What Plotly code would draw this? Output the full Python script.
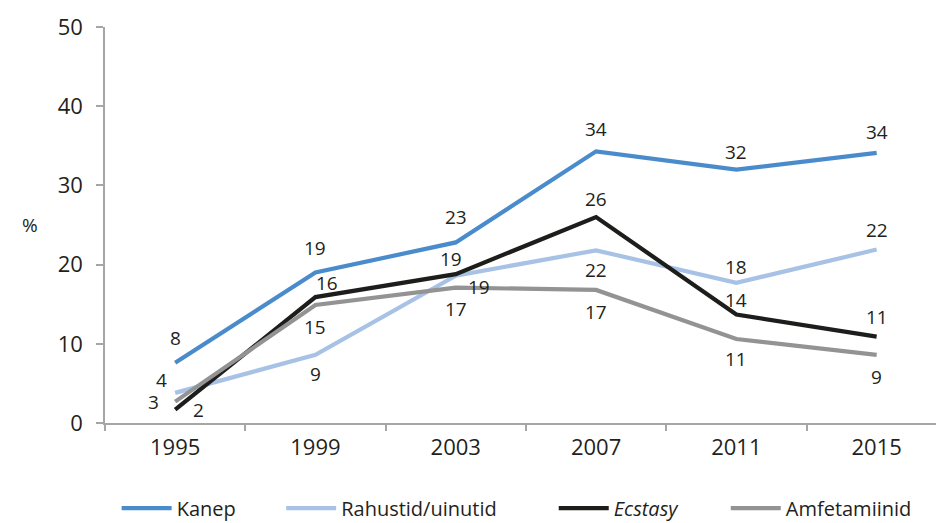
import plotly.graph_objects as go

years = ["1995", "1999", "2003", "2007", "2011", "2015"]
kanep = [7.6, 19.0, 22.8, 34.3, 32.0, 34.1]
rahustid = [3.8, 8.6, 18.6, 21.8, 17.7, 21.9]
ecstasy = [1.7, 15.9, 18.8, 26.0, 13.7, 10.9]
amfetamiinid = [2.7, 14.9, 17.1, 16.8, 10.6, 8.6]

series = [
    ("Kanep", kanep, "#4a8ccb"),
    ("Rahustid/uinutid", rahustid, "#a7c2e5"),
    ("<i>Ecstasy</i>", ecstasy, "#1d1d1b"),
    ("Amfetamiinid", amfetamiinid, "#939393"),
]

# label placement per point (style): (xshift, yshift) in px
offsets = [
    [(0, 25), (0, 25), (0, 25), (0, 22), (0, 18), (0, 21)],
    [(-14, 13), (0, -19), (23, -11), (0, -20), (0, 16), (0, 20)],
    [(23, 0), (12, 14), (-5, 15), (0, 18), (0, 15), (0, 20)],
    [(-22, 0), (0, -22), (0, -21), (0, -22), (0, -20), (0, -22)],
]

legend_x = [0.014, 0.212, 0.540, 0.747]
FONT = "Open Sans"
TXT = "#231f20"

fig = go.Figure()
annotations = []
for i, (name, vals, color) in enumerate(series):
    lg = "legend" if i == 0 else f"legend{i+1}"
    fig.add_trace(go.Scatter(
        x=years, y=vals, mode="lines", name=name,
        line=dict(color=color, width=4.2),
        legend=lg,
    ))
    for j, v in enumerate(vals):
        dx, dy = offsets[i][j]
        annotations.append(dict(
            x=j, y=v, xref="x", yref="y", text=f"{v:.0f}",
            showarrow=False, xshift=dx, yshift=dy,
            font=dict(family=FONT, size=19, color=TXT),
        ))

annotations.append(dict(
    x=-0.102, y=0.5, xref="paper", yref="paper", text="%", showarrow=False,
    font=dict(family=FONT, size=19, color=TXT),
))

layout_legends = {}
for i, lx in enumerate(legend_x):
    key = "legend" if i == 0 else f"legend{i+1}"
    layout_legends[key] = dict(
        x=lx, y=-0.215, xanchor="left", yanchor="middle",
        orientation="h", bgcolor="rgba(0,0,0,0)", itemwidth=50,
        font=dict(family=FONT, size=20, color=TXT),
    )

fig.update_layout(
    width=936, height=523,
    margin=dict(l=105, r=0, t=27, b=100, autoexpand=False),
    plot_bgcolor="white", paper_bgcolor="white",
    showlegend=True,
    annotations=annotations,
    font=dict(family=FONT, size=19, color=TXT),
    **layout_legends,
)
fig.update_xaxes(
    type="category", range=[-0.5, 5.423], tickson="boundaries",
    ticks="outside", ticklen=6, tickcolor="#a6a6a6", tickwidth=1.5,
    showline=True, linecolor="#a6a6a6", linewidth=1.5,
    showgrid=False, ticklabelstandoff=4,
    tickfont=dict(family=FONT, size=22, color=TXT),
)
fig.update_yaxes(
    range=[0, 50], dtick=10, ticks="outside", ticklen=7,
    tickcolor="#a6a6a6", tickwidth=1.5,
    showline=True, linecolor="#a6a6a6", linewidth=1.5,
    showgrid=False, zeroline=False, ticklabelstandoff=9,
    tickfont=dict(family=FONT, size=22, color=TXT),
)
fig.write_html("out.html", config={"displayModeBar": False},
               post_script="document.body.style.margin='0';")
